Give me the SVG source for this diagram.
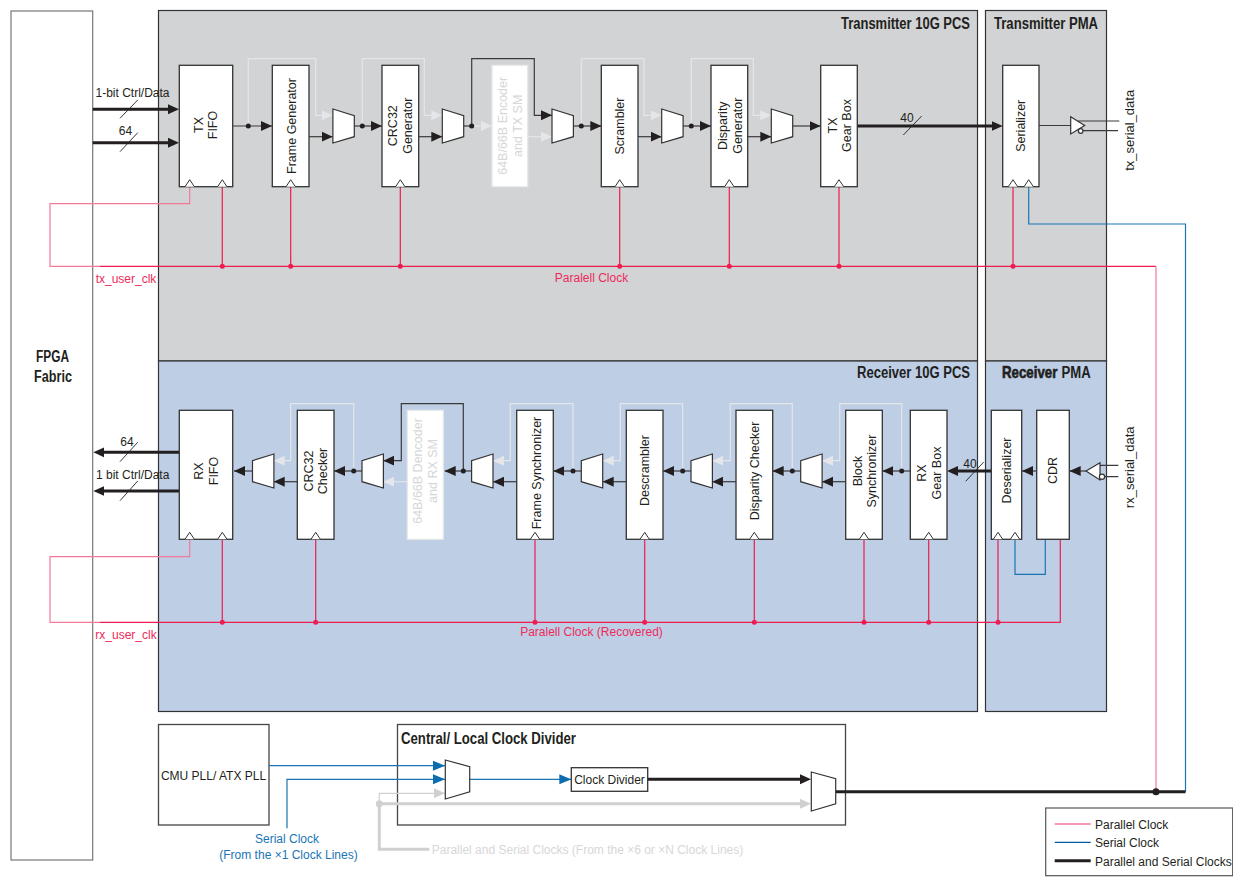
<svg xmlns="http://www.w3.org/2000/svg" width="1233" height="888" viewBox="0 0 1233 888">
<style>
text{font-family:"Liberation Sans",Arial,sans-serif;font-size:12.5px;fill:#231f20;text-anchor:middle}
.title{font-family:"Liberation Sans Narrow","Liberation Sans",sans-serif;font-weight:700;font-size:16px;text-anchor:start}
.lab{font-size:12px}
.red{fill:#ee2a5b}.blu{fill:#1a75b5}.gry{fill:#d6d7d9}
.ghost{fill:#d6d7d9}
.box{fill:#fff;stroke:#333;stroke-width:1.3}
.gbox{fill:#fff;stroke:#e6e7e8;stroke-width:1.3}
.frame{fill:none;stroke:#444;stroke-width:1.3}
.ptx{fill:#d1d3d4;stroke:#333;stroke-width:1.2}
.prx{fill:#bdcee5;stroke:#333;stroke-width:1.2}
.mux{fill:#fff;stroke:#333;stroke-width:1.2}
.clk{fill:#fff;stroke:#333;stroke-width:1}
path.w,path.l,path.g,path.G,path.T,path.b,path.r,path.p,path.bt{fill:none}
.w{stroke:#3a3a3c;stroke-width:1.2;marker-end:url(#aD)}
.n{fill:none;stroke:#3a3a3c;stroke-width:1.2}
.l{stroke:#e4e6e9;stroke-width:1.2;marker-end:url(#aL)}
.g{stroke:#cfd0d2;stroke-width:1.2;marker-end:url(#aG)}
.G{stroke:#cfd0d2;stroke-width:3;marker-end:url(#aGt)}
.Gn{fill:none;stroke:#cfd0d2;stroke-width:3}
.T{stroke:#231f20;stroke-width:3;marker-end:url(#aDt)}
.Tn{fill:none;stroke:#231f20;stroke-width:3}
.b{stroke:#1a75b5;stroke-width:1.2;marker-end:url(#aB)}
.bn{fill:none;stroke:#1a75b5;stroke-width:1.2}
.r{stroke:#ee1c50;stroke-width:1.2}
.p{stroke:#f4799a;stroke-width:1.2}
.s{stroke:#231f20;stroke-width:.9;fill:none}
</style>
<defs>
<marker id="aD" markerUnits="userSpaceOnUse" markerWidth="11" markerHeight="11" refX="11" refY="5.5" orient="auto"><path d="M0 .5L11 5.5L0 10.5z" fill="#231f20"/></marker>
<marker id="aL" markerUnits="userSpaceOnUse" markerWidth="11" markerHeight="11" refX="11" refY="5.5" orient="auto"><path d="M0 .5L11 5.5L0 10.5z" fill="#e4e6e9"/></marker>
<marker id="aG" markerUnits="userSpaceOnUse" markerWidth="11" markerHeight="11" refX="11" refY="5.5" orient="auto"><path d="M0 .5L11 5.5L0 10.5z" fill="#cfd0d2"/></marker>
<marker id="aB" markerUnits="userSpaceOnUse" markerWidth="12" markerHeight="11" refX="12" refY="5.5" orient="auto"><path d="M0 .5L12 5.5L0 10.5z" fill="#0b6db0"/></marker>
<marker id="aDt" markerUnits="userSpaceOnUse" markerWidth="11" markerHeight="11" refX="5" refY="5.5" orient="auto"><path d="M0 .5L11 5.5L0 10.5z" fill="#231f20"/></marker>
<marker id="aGt" markerUnits="userSpaceOnUse" markerWidth="11" markerHeight="11" refX="5" refY="5.5" orient="auto"><path d="M0 .5L11 5.5L0 10.5z" fill="#cfd0d2"/></marker>
<path id="mt" class="mux" d="M0 0L21.4 6.7V27.7L0 34Z"/>
<path id="mr" class="mux" d="M21.4 0L0 6.7V27.7L21.4 34Z"/>
<path id="mc" class="mux" d="M0 0L24.4 6.7V31.7L0 39Z"/>
<path id="ck" class="clk" d="M-4.7 7L0 0L4.7 7"/>
</defs>

<g id="fpga-fabric"><rect x="11" y="11" width="81.700" height="849" fill="#fff" stroke="#777" stroke-width="1.200"/>
<text class="title" x="36" y="362" textLength="33" lengthAdjust="spacingAndGlyphs">FPGA</text><text class="title" x="34" y="382" textLength="38" lengthAdjust="spacingAndGlyphs">Fabric</text></g>

<g id="panels">
<g id="tx-pcs"><rect class="ptx" x="158.500" y="10.500" width="819" height="350.500"/><text class="title" x="841" y="29" textLength="129" lengthAdjust="spacingAndGlyphs">Transmitter 10G PCS</text></g>
<g id="tx-pma"><rect class="ptx" x="985.500" y="10.500" width="121" height="350.500"/><text class="title" x="994" y="29" textLength="104" lengthAdjust="spacingAndGlyphs">Transmitter PMA</text></g>
<g id="rx-pcs"><rect class="prx" x="158.500" y="361" width="819" height="350.500"/><text class="title" x="857" y="378" textLength="113" lengthAdjust="spacingAndGlyphs">Receiver 10G PCS</text></g>
<g id="rx-pma"><rect class="prx" x="985.500" y="361" width="121" height="350.500"/><text class="title" transform="translate(1002 378) scale(.83 1)" stroke="#231f20" stroke-width=".6">Receiver</text><text class="title" transform="translate(1061.500 378) scale(.82 1)">PMA</text></g>
</g>

<g id="clock-divider-frame"><rect class="frame" x="397.500" y="724.500" width="448" height="100.500"/><text class="title" x="401" y="744" textLength="175" lengthAdjust="spacingAndGlyphs">Central/ Local Clock Divider</text></g>
<g id="cmu-pll"><rect class="frame" x="158.500" y="724.500" width="110.500" height="100.500" fill="#fff"/><text x="213.500" y="780" style="font-size:12px">CMU PLL/ ATX PLL</text></g>

<g id="connectors">
<path class="T" d="M92.700 109.300H173"/>
<path class="T" d="M92.700 142.700H173"/>
<path class="s" d="M120 118.300L137.700 100M120 151.700L137.700 132.700"/>
<path class="l" d="M248.300 126V58.700H315.700V115.300H332.700"/>
<path class="l" d="M362.300 126V58.700H424.300V115.300H442.300"/>
<path class="l" d="M471.700 126H492"/>
<path class="l" d="M527.700 136.700H552"/>
<path class="l" d="M581.300 126V58.700H644V115.300H661.700"/>
<path class="l" d="M691.300 126V58.700H753.300V115.300H771.300"/>
<path class="w" d="M232.700 126H272"/>
<path class="w" d="M309 136.700H332.700"/>
<path class="w" d="M354.300 126H382"/>
<path class="w" d="M418.700 136.700H442.300"/>
<path class="n" d="M463.300 126H471.700"/>
<path class="w" d="M471.700 126V58.700H534.300V115.300H552" fill="none"/>
<path class="w" d="M573.300 126H601.300"/>
<path class="w" d="M638 136.700H661.700"/>
<path class="w" d="M683 126H711"/>
<path class="w" d="M747.700 136.700H771.300"/>
<path class="w" d="M792.300 126H820.700"/>
<path class="T" d="M857.300 126H996.700"/>
<path class="s" d="M903.300 135L921.700 116"/>
<path class="n" d="M1039 125.500H1071M1078 121H1119.300M1082 130.700H1118"/>

<path class="T" d="M179.300 452.300H99.300"/>
<path class="T" d="M179.300 491H99.300"/>
<path class="s" d="M120 461.700L137.700 442.300M120 500.700L137.700 481"/>
<path class="l" d="M353.700 471V403.700H290.700V460.700H273.700"/>
<path class="l" d="M407.300 481.700H383.300"/>
<path class="l" d="M573 471V403.700H510.300V460.700H493"/>
<path class="l" d="M682.700 471V403.700H620.300V460.700H602.700"/>
<path class="l" d="M792.300 471V403.700H730.300V460.700H712.300"/>
<path class="l" d="M901.700 471V403.700H839.700V460.700H822"/>
<path class="w" d="M252.700 471H234"/>
<path class="w" d="M297.300 481.700H273.700"/>
<path class="w" d="M362 471H334"/>
<path class="w" d="M463.300 471V403.700H401.300V460.700H383.300" fill="none"/>
<path class="w" d="M471.700 471H444.700"/>
<path class="w" d="M516.700 481.700H493"/>
<path class="w" d="M581.300 471H553.300"/>
<path class="w" d="M626.300 481.700H602.700"/>
<path class="w" d="M691 471H663"/>
<path class="w" d="M736 481.700H712.300"/>
<path class="w" d="M800.700 471H772.700"/>
<path class="w" d="M845.700 481.700H822"/>
<path class="w" d="M910.300 471H882.300"/>
<path class="T" d="M991.300 471H953"/>
<path class="s" d="M965.700 481.300L983.700 462"/>
<path class="w" d="M1036.700 471H1022"/>
<path class="w" d="M1086 471H1069.700"/>
<path class="n" d="M1098 465.300H1118.300M1100 476.700H1118.300"/>

<g fill="#231f20">
<circle cx="248.300" cy="126" r="2.500"/><circle cx="362.300" cy="126" r="2.500"/><circle cx="471.700" cy="126" r="2.500"/><circle cx="581.300" cy="126" r="2.500"/><circle cx="691.300" cy="126" r="2.500"/>
<circle cx="353.700" cy="471" r="2.500"/><circle cx="463.300" cy="471" r="2.500"/><circle cx="573" cy="471" r="2.500"/><circle cx="682.700" cy="471" r="2.500"/><circle cx="792.300" cy="471" r="2.500"/><circle cx="901.700" cy="471" r="2.500"/>
</g>

<path class="p" fill="none" d="M189.700 186.700V203.700H50V266.300H100"/>
<path class="r" fill="none" d="M100 266.300H1156"/>
<path class="p" fill="none" d="M1156 266.300V791.700"/>
<path class="r" fill="none" d="M222.300 186.700V266.300M290.700 186.700V266.300M400.300 186.700V266.300M619.700 186.700V266.300M729.300 186.700V266.300M839 186.700V266.300M1013 186.700V266.300"/>
<path class="p" fill="none" d="M189.700 539.300V556.700H50V622.300H100"/>
<path class="r" fill="none" d="M100 622.300H1060.300V539.300M222.300 539.300V622.300M315.700 539.300V622.300M535 539.300V622.300M644.700 539.300V622.300M754.300 539.300V622.300M864 539.300V622.300M928.700 539.300V622.300M998 539.300V622.300"/>
<g fill="#ee1c50">
<circle cx="222.300" cy="266.300" r="2.500"/><circle cx="290.700" cy="266.300" r="2.500"/><circle cx="400.300" cy="266.300" r="2.500"/><circle cx="619.700" cy="266.300" r="2.500"/><circle cx="729.300" cy="266.300" r="2.500"/><circle cx="839" cy="266.300" r="2.500"/><circle cx="1013" cy="266.300" r="2.500"/>
<circle cx="222.300" cy="622.300" r="2.500"/><circle cx="315.700" cy="622.300" r="2.500"/><circle cx="535" cy="622.300" r="2.500"/><circle cx="644.700" cy="622.300" r="2.500"/><circle cx="754.300" cy="622.300" r="2.500"/><circle cx="864" cy="622.300" r="2.500"/><circle cx="928.700" cy="622.300" r="2.500"/><circle cx="998" cy="622.300" r="2.500"/>
</g>
<path class="bn" d="M1028.700 186.700V224H1185.500V791.700"/>
<path class="bn" d="M1015 539.300V574.300H1045.300V539.300"/>

<path class="b" d="M269 765.700H445"/>
<path class="b" d="M287 828.300V779.300H445"/>
<path class="b" d="M469.700 779.300H571.300"/>
<path class="g" d="M379.300 803.700V793.300H445" fill="none"/>
<path class="G" d="M379.300 803.700H805"/>
<path class="Gn" d="M379.300 803.700V849.300H429.300"/>
<circle cx="379.300" cy="803.700" r="3.500" fill="#cfd0d2"/>
<path class="T" d="M647.700 779.300H805"/>
<path class="Tn" d="M835.700 791.700H1185.500"/>
<circle cx="1156" cy="791.700" r="3.500" fill="#231f20"/>
</g>

<g id="labels">
<text x="132.500" y="96.700" class="lab">1-bit Ctrl/Data</text>
<text x="125.500" y="134.700" class="lab">64</text>
<text x="907" y="122.300" class="lab">40</text>
<text x="127" y="446" class="lab">64</text>
<text x="132.700" y="478.700" class="lab">1 bit Ctrl/Data</text>
<text x="970" y="468" class="lab">40</text>
<text x="126" y="283" class="lab red">tx_user_clk</text>
<text x="126" y="638.500" class="lab red">rx_user_clk</text>
<text x="591.500" y="282" class="lab red">Paralell Clock</text>
<text x="591.500" y="636" class="lab red">Paralell Clock (Recovered)</text>
<text transform="translate(1133.800 130.300) rotate(-90)" style="font-size:13px">tx_serial_data</text>
<text transform="translate(1134 467.300) rotate(-90)" style="font-size:13px">rx_serial_data</text>
<text x="287" y="843" class="lab blu">Serial Clock</text>
<text x="288.500" y="859" class="lab blu">(From the ×1 Clock Lines)</text>
<text x="587.500" y="853.500" class="lab gry">Parallel and Serial Clocks (From the ×6 or ×N Clock Lines)</text>
</g>

<g id="tx-fifo"><rect class="box" x="179.300" y="65.300" width="53.400" height="121.400"/><text transform="translate(202.500 125) rotate(-90)">TX</text><text transform="translate(217.200 125) rotate(-90)">FIFO</text><use href="#ck" x="189.700" y="179.700"/><use href="#ck" x="222.300" y="179.700"/></g>
<g id="frame-generator"><rect class="box" x="272.300" y="65.300" width="36.700" height="121.400"/><text transform="translate(295.500 126) rotate(-90)">Frame Generator</text><use href="#ck" x="290.700" y="179.700"/></g>
<g id="crc32-generator"><rect class="box" x="382" y="65.300" width="36.700" height="121.400"/><text transform="translate(396.800 125.700) rotate(-90)">CRC32</text><text transform="translate(412.200 125.700) rotate(-90)">Generator</text><use href="#ck" x="400.300" y="179.700"/></g>
<g id="tx-encoder"><rect class="gbox" x="492" y="65.300" width="35.700" height="121.400"/><text class="ghost" transform="translate(507.200 125.800) rotate(-90)">64B/66B Encoder</text><text class="ghost" transform="translate(521.800 125.800) rotate(-90)">and TX SM</text></g>
<g id="scrambler"><rect class="box" x="601.300" y="65.300" width="36.700" height="121.400"/><text transform="translate(624.200 126) rotate(-90)">Scrambler</text><use href="#ck" x="619.700" y="179.700"/></g>
<g id="disparity-generator"><rect class="box" x="711" y="65.300" width="36.700" height="121.400"/><text transform="translate(727.200 125.700) rotate(-90)">Disparity</text><text transform="translate(741.800 125.700) rotate(-90)">Generator</text><use href="#ck" x="729.300" y="179.700"/></g>
<g id="tx-gearbox"><rect class="box" x="820.700" y="65.300" width="36.600" height="121.400"/><text transform="translate(836.800 125.500) rotate(-90)">TX</text><text transform="translate(851.200 125.500) rotate(-90)">Gear Box</text><use href="#ck" x="839" y="179.700"/></g>
<g id="serializer"><rect class="box" x="1002.700" y="65.300" width="36.300" height="121.400"/><text transform="translate(1025.200 125.800) rotate(-90)">Serializer</text><use href="#ck" x="1013" y="179.700"/><use href="#ck" x="1028.700" y="179.700"/></g>
<g id="tx-mux-1"><use href="#mt" x="332.900" y="109"/></g>
<g id="tx-mux-2"><use href="#mt" x="442.300" y="109"/></g>
<g id="tx-mux-3"><use href="#mt" x="552" y="109"/></g>
<g id="tx-mux-4"><use href="#mt" x="661.700" y="109"/></g>
<g id="tx-mux-5"><use href="#mt" x="771.300" y="109"/></g>
<g id="tx-buffer"><path class="mux" d="M1070.700 116.700L1084.700 125.500L1070.700 134Z"/><circle class="mux" cx="1080.700" cy="131" r="2.300"/></g>

<g id="rx-fifo"><rect class="box" x="179.300" y="410.300" width="53.400" height="129"/><text transform="translate(202.800 471) rotate(-90)">RX</text><text transform="translate(217.500 471) rotate(-90)">FIFO</text><use href="#ck" x="189.700" y="532.300"/><use href="#ck" x="222.300" y="532.300"/></g>
<g id="crc32-checker"><rect class="box" x="297.300" y="410.300" width="36.700" height="129"/><text transform="translate(312.800 471) rotate(-90)">CRC32</text><text transform="translate(327.200 471) rotate(-90)">Checker</text><use href="#ck" x="315.700" y="532.300"/></g>
<g id="rx-decoder"><rect class="gbox" x="407.300" y="410.300" width="36" height="129"/><text class="ghost" transform="translate(421.800 471) rotate(-90)">64B/66B Dencoder</text><text class="ghost" transform="translate(437.200 471) rotate(-90)">and RX SM</text></g>
<g id="frame-synchronizer"><rect class="box" x="516.700" y="410.300" width="36.600" height="129"/><text transform="translate(540.500 473) rotate(-90)">Frame Synchronizer</text><use href="#ck" x="535" y="532.300"/></g>
<g id="descrambler"><rect class="box" x="626.300" y="410.300" width="36.700" height="129"/><text transform="translate(649.200 470.500) rotate(-90)">Descrambler</text><use href="#ck" x="644.700" y="532.300"/></g>
<g id="disparity-checker"><rect class="box" x="736" y="410.300" width="36.700" height="129"/><text transform="translate(758.800 471) rotate(-90)">Disparity Checker</text><use href="#ck" x="754.300" y="532.300"/></g>
<g id="block-synchronizer"><rect class="box" x="845.700" y="410.300" width="36.600" height="129"/><text transform="translate(861.500 471) rotate(-90)">Block</text><text transform="translate(875.800 471) rotate(-90)">Synchronizer</text><use href="#ck" x="864" y="532.300"/></g>
<g id="rx-gearbox"><rect class="box" x="910.300" y="410.300" width="36.700" height="129"/><text transform="translate(926.200 473) rotate(-90)">RX</text><text transform="translate(940.500 473) rotate(-90)">Gear Box</text><use href="#ck" x="928.700" y="532.300"/></g>
<g id="deserializer"><rect class="box" x="991.300" y="410.300" width="30.400" height="129"/><text transform="translate(1010.500 470.500) rotate(-90)">Deserializer</text><use href="#ck" x="998" y="532.300"/><use href="#ck" x="1015" y="532.300"/></g>
<g id="cdr"><rect class="box" x="1036.700" y="410.300" width="32.600" height="129"/><text transform="translate(1056.800 470.500) rotate(-90)">CDR</text></g>
<g id="rx-mux-1"><use href="#mr" x="252.500" y="454"/></g>
<g id="rx-mux-2"><use href="#mr" x="362" y="454"/></g>
<g id="rx-mux-3"><use href="#mr" x="471.600" y="454"/></g>
<g id="rx-mux-4"><use href="#mr" x="581.300" y="454"/></g>
<g id="rx-mux-5"><use href="#mr" x="691" y="454"/></g>
<g id="rx-mux-6"><use href="#mr" x="800.700" y="454"/></g>
<g id="rx-buffer"><path class="mux" d="M1100 462.700L1086 471L1100 480Z"/><circle class="mux" cx="1102" cy="476.700" r="2.600"/></g>

<g id="clock-mux-1"><use href="#mc" x="445.300" y="760"/></g>
<g id="clock-divider"><rect class="box" x="571.300" y="767.700" width="76.400" height="23.600"/><text x="609.500" y="784" style="font-size:12px">Clock Divider</text></g>
<g id="clock-mux-2"><use href="#mc" x="811.300" y="772"/></g>

<g id="legend"><rect x="1045.700" y="808" width="187" height="67.700" fill="#fff" stroke="#555" stroke-width="1.200"/>
<path d="M1054.700 824H1090.700" stroke="#f4799a" stroke-width="1.300"/><path d="M1054.700 842.300H1090.700" stroke="#005b9f" stroke-width="1.200"/><path d="M1054.700 860.700H1090.700" stroke="#231f20" stroke-width="3"/>
<text x="1095" y="828.700" style="text-anchor:start;font-size:12px">Parallel Clock</text><text x="1095" y="847" style="text-anchor:start;font-size:12px">Serial Clock</text><text x="1095" y="865.500" style="text-anchor:start;font-size:12px">Parallel and Serial Clocks</text></g>
</svg>
